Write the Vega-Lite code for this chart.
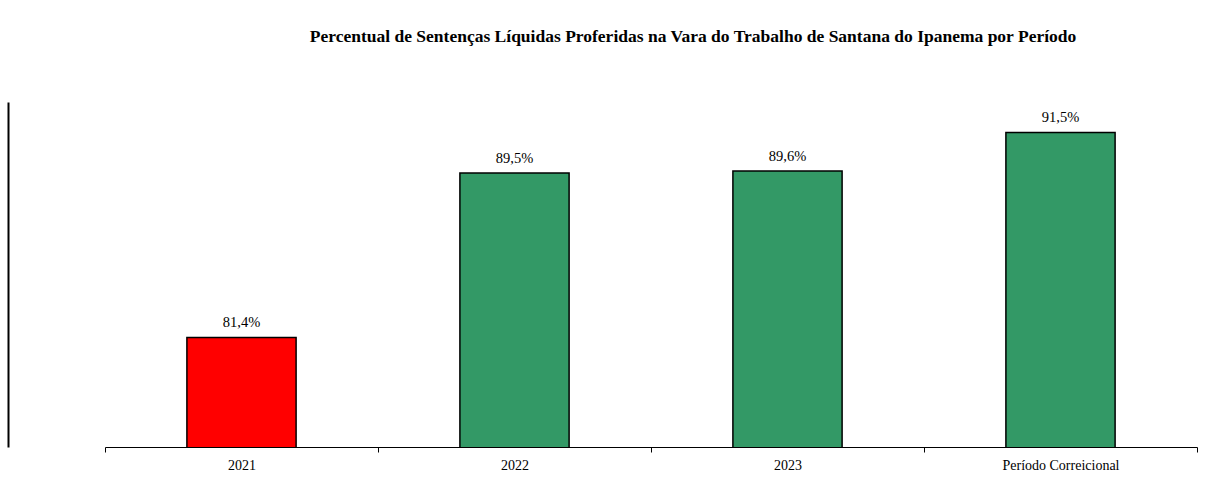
{
  "$schema": "https://vega.github.io/schema/vega-lite/v6.json",
  "autosize": {"type": "none"},
  "width": 1092,
  "height": 345,
  "padding": {"left": 105, "top": 102, "right": 16, "bottom": 41},
  "background": "white",
  "title": {
    "text": "Percentual de Sentenças Líquidas Proferidas na Vara do Trabalho de Santana do Ipanema por Período",
    "font": "Liberation Serif",
    "fontSize": 17.5,
    "fontWeight": "bold",
    "color": "black",
    "anchor": "middle",
    "frame": "group",
    "dx": 42,
    "offset": 57
  },
  "data": {
    "values": [
      {"periodo": "2021", "valor": 81.4, "rotulo": "81,4%", "cor": "vermelho"},
      {"periodo": "2022", "valor": 89.5, "rotulo": "89,5%", "cor": "verde"},
      {"periodo": "2023", "valor": 89.6, "rotulo": "89,6%", "cor": "verde"},
      {"periodo": "Período Correicional", "valor": 91.5, "rotulo": "91,5%", "cor": "verde"}
    ]
  },
  "encoding": {
    "x": {
      "field": "periodo",
      "type": "nominal",
      "sort": null,
      "scale": {"paddingInner": 0, "paddingOuter": 0},
      "axis": {
        "title": null,
        "labelAngle": 0,
        "labelFont": "Liberation Serif",
        "labelFontSize": 14,
        "labelColor": "black",
        "labelPadding": 6,
        "domainColor": "black",
        "domainWidth": 1,
        "tickColor": "black",
        "tickSize": 5,
        "tickBand": "extent",
        "grid": false
      }
    },
    "y": {
      "field": "valor",
      "type": "quantitative",
      "scale": {"domain": [76, 93], "zero": false, "nice": false},
      "axis": {
        "title": null,
        "labels": false,
        "ticks": false,
        "grid": false,
        "domain": true,
        "domainColor": "black",
        "domainWidth": 2,
        "offset": 97
      }
    }
  },
  "layer": [
    {
      "mark": {"type": "bar", "stroke": "black", "strokeWidth": 1.5, "clip": true, "width": {"band": 0.4}},
      "encoding": {
        "color": {
          "field": "cor",
          "type": "nominal",
          "scale": {"domain": ["vermelho", "verde"], "range": ["#FF0000", "#339966"]},
          "legend": null
        }
      }
    },
    {
      "mark": {"type": "text", "baseline": "bottom", "dy": -7, "font": "Liberation Serif", "fontSize": 14.5, "color": "black"},
      "encoding": {"text": {"field": "rotulo"}}
    }
  ],
  "config": {"view": {"stroke": null}}
}
